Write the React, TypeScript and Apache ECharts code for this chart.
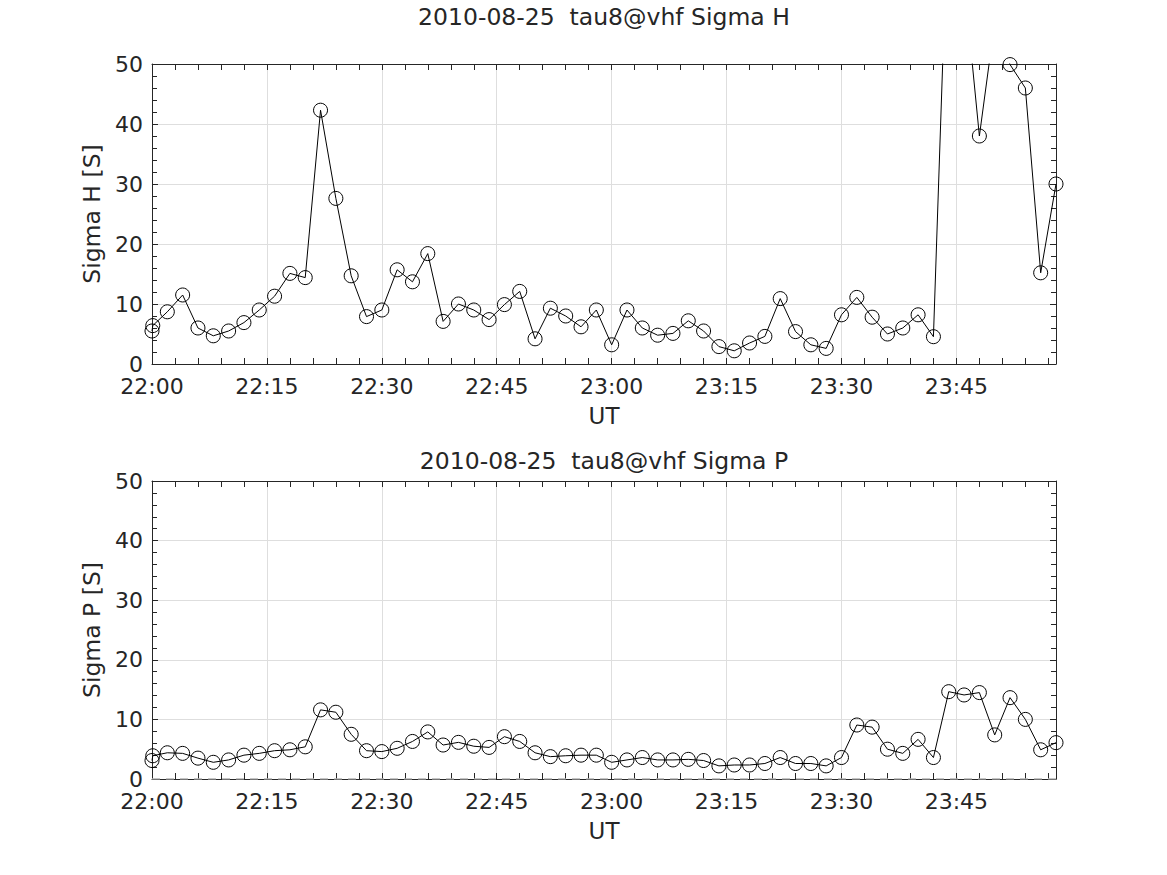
import React, { useEffect, useRef } from "react";
import * as echarts from "echarts";

// minutes after 22:00 UT
const times = [
  0, 0.1, 2, 4, 6, 8, 10, 12, 14, 16, 18, 20, 22, 24, 26, 28, 30, 32, 34, 36, 38, 40,
  42, 44, 46, 48, 50, 52, 54, 56, 58, 60, 62, 64, 66, 68, 70, 72, 74, 76, 78, 80,
  82, 84, 86, 88, 90, 92, 94, 96, 98, 100, 102, 104, 106, 108, 110, 112, 114, 116, 118,
];

const sigmaH = [
  5.5, 6.4, 8.7, 11.5, 6.0, 4.7, 5.5, 6.9, 9.0, 11.3, 15.1, 14.4, 42.3, 27.6, 14.7, 7.9, 9.0, 15.7, 13.7, 18.4, 7.1, 10.0,
  9.0, 7.4, 9.9, 12.1, 4.2, 9.3, 8.0, 6.2, 9.0, 3.2, 9.0, 6.0, 4.8, 5.1, 7.2, 5.5, 2.9, 2.2, 3.5, 4.6,
  10.9, 5.4, 3.2, 2.6, 8.2, 11.1, 7.8, 5.0, 6.0, 8.2, 4.55, 80, 64, 38.0, 57, 49.9, 46.0, 15.2, 30.0,
];

const sigmaP = [
  3.1, 3.9, 4.4, 4.3, 3.5, 2.8, 3.2, 4.0, 4.3, 4.75, 4.9, 5.4, 11.6, 11.2, 7.5, 4.75, 4.6, 5.15, 6.3, 7.9, 5.7, 6.15,
  5.5, 5.3, 7.1, 6.3, 4.4, 3.75, 3.9, 4.0, 4.0, 2.8, 3.2, 3.6, 3.2, 3.2, 3.3, 3.1, 2.2, 2.35, 2.35, 2.6,
  3.6, 2.6, 2.6, 2.2, 3.6, 9.06, 8.7, 5.0, 4.3, 6.65, 3.6, 14.65, 14.1, 14.5, 7.4, 13.65, 10.0, 4.9, 6.1,
];

const baselineP = [
  [0, 0],
  [118, 0],
];

const titles = ["2010-08-25  tau8@vhf Sigma H", "2010-08-25  tau8@vhf Sigma P"];
const yNames = ["Sigma H [S]", "Sigma P [S]"];
const xName = "UT";
const startHour = 22;

const FONT = "DejaVu Sans";
const TXT = "#262626";
const AX = "#262626";
const GRIDC = "#dedede";

const fmtTime = (v: number) => {
  if (Math.abs(v % 15) > 1e-6) return "";
  const total = startHour * 60 + v;
  const h = Math.floor(total / 60);
  const m = Math.round(total % 60);
  return `${h}:${String(m).padStart(2, "0")}`;
};

export default function App() {
  const ref = useRef<HTMLDivElement>(null);
  useEffect(() => {
    if (!ref.current) return;
    const chart = echarts.init(ref.current, undefined, { renderer: "svg" });
    const grids = [
      { left: 152, top: 64, width: 904, height: 300 },
      { left: 152, top: 481, width: 904, height: 298 },
    ];
    const xAxes: any[] = [];
    const yAxes: any[] = [];
    grids.forEach((_, i) => {
      xAxes.push({
        gridIndex: i,
        type: "value",
        min: 0,
        max: 118,
        interval: 3,
        position: "bottom",
        axisLine: { show: true, onZero: false, lineStyle: { color: AX, width: 1 } },
        axisTick: { show: true, inside: true, length: 6, lineStyle: { color: AX } },
        axisLabel: { show: true, formatter: fmtTime, margin: 11, fontSize: 22, color: TXT, fontFamily: FONT },
        splitLine: { show: false },
        name: xName,
        nameLocation: "middle",
        nameGap: 40,
        nameTextStyle: { fontSize: 23, color: TXT, fontFamily: FONT },
      });
      xAxes.push({
        gridIndex: i,
        type: "value",
        min: 0,
        max: 118,
        interval: 3,
        position: "top",
        axisLine: { show: true, onZero: false, lineStyle: { color: AX, width: 1 } },
        axisTick: { show: true, inside: true, length: 6, lineStyle: { color: AX } },
        axisLabel: { show: false },
        splitLine: { show: false },
      });
      xAxes.push({
        gridIndex: i,
        type: "value",
        min: 0,
        max: 118,
        interval: 15,
        position: "bottom",
        axisLine: { show: false },
        axisTick: { show: false },
        axisLabel: { show: false },
        splitLine: { show: true, showMinLine: false, showMaxLine: false, lineStyle: { color: GRIDC, width: 1 } },
      });
      yAxes.push({
        gridIndex: i,
        type: "value",
        min: 0,
        max: 50,
        interval: 10,
        position: "left",
        axisLine: { show: true, onZero: false, lineStyle: { color: AX, width: 1 } },
        axisTick: { show: true, inside: true, length: 6, lineStyle: { color: AX } },
        minorTick: { show: true, splitNumber: 5, length: 5, lineStyle: { color: AX } },
        axisLabel: { show: true, margin: 9, fontSize: 22, color: TXT, fontFamily: FONT },
        splitLine: { show: true, showMinLine: false, showMaxLine: false, lineStyle: { color: GRIDC, width: 1 } },
        name: yNames[i],
        nameLocation: "middle",
        nameGap: 44,
        nameTextStyle: { fontSize: 23.5, color: TXT, fontFamily: FONT },
      });
      yAxes.push({
        gridIndex: i,
        type: "value",
        min: 0,
        max: 50,
        interval: 10,
        position: "right",
        axisLine: { show: true, onZero: false, lineStyle: { color: AX, width: 1 } },
        axisTick: { show: true, inside: true, length: 6, lineStyle: { color: AX } },
        minorTick: { show: true, splitNumber: 5, length: 5, lineStyle: { color: AX } },
        axisLabel: { show: false },
        splitLine: { show: false },
      });
    });

    const lineSeries = (data: number[], xi: number, yi: number) => ({
      type: "line",
      xAxisIndex: xi,
      yAxisIndex: yi,
      data: times.map((t, k) => [t, data[k]]),
      symbol: "circle",
      symbolSize: 14,
      showAllSymbol: true,
      clip: true,
      silent: true,
      lineStyle: { color: "#000", width: 1 },
      itemStyle: { color: "rgba(0,0,0,0)", borderColor: "#000", borderWidth: 1 },
      z: 3,
    });

    chart.setOption({
      animation: false,
      backgroundColor: "#ffffff",
      grid: grids,
      xAxis: xAxes,
      yAxis: yAxes,
      graphic: [
        {
          type: "text",
          x: 604,
          y: 17,
          style: { text: titles[0], fontSize: 23.5, fontFamily: FONT, fill: TXT, textAlign: "center", textVerticalAlign: "middle" },
        },
        {
          type: "text",
          x: 604,
          y: 461,
          style: { text: titles[1], fontSize: 23.5, fontFamily: FONT, fill: TXT, textAlign: "center", textVerticalAlign: "middle" },
        },
      ],
      series: [
        lineSeries(sigmaH, 0, 0),
        {
          type: "line",
          xAxisIndex: 3,
          yAxisIndex: 2,
          data: baselineP,
          symbol: "none",
          silent: true,
          lineStyle: { color: "#b3b3b3", width: 1.5, type: [8, 6] },
          z: 2,
        },
        lineSeries(sigmaP, 3, 2),
      ],
    });
    return () => chart.dispose();
  }, []);
  return (
    <div
      ref={ref}
      style={{ position: "fixed", left: 0, top: 0, width: 1167, height: 875, background: "#fff" }}
    />
  );
}
